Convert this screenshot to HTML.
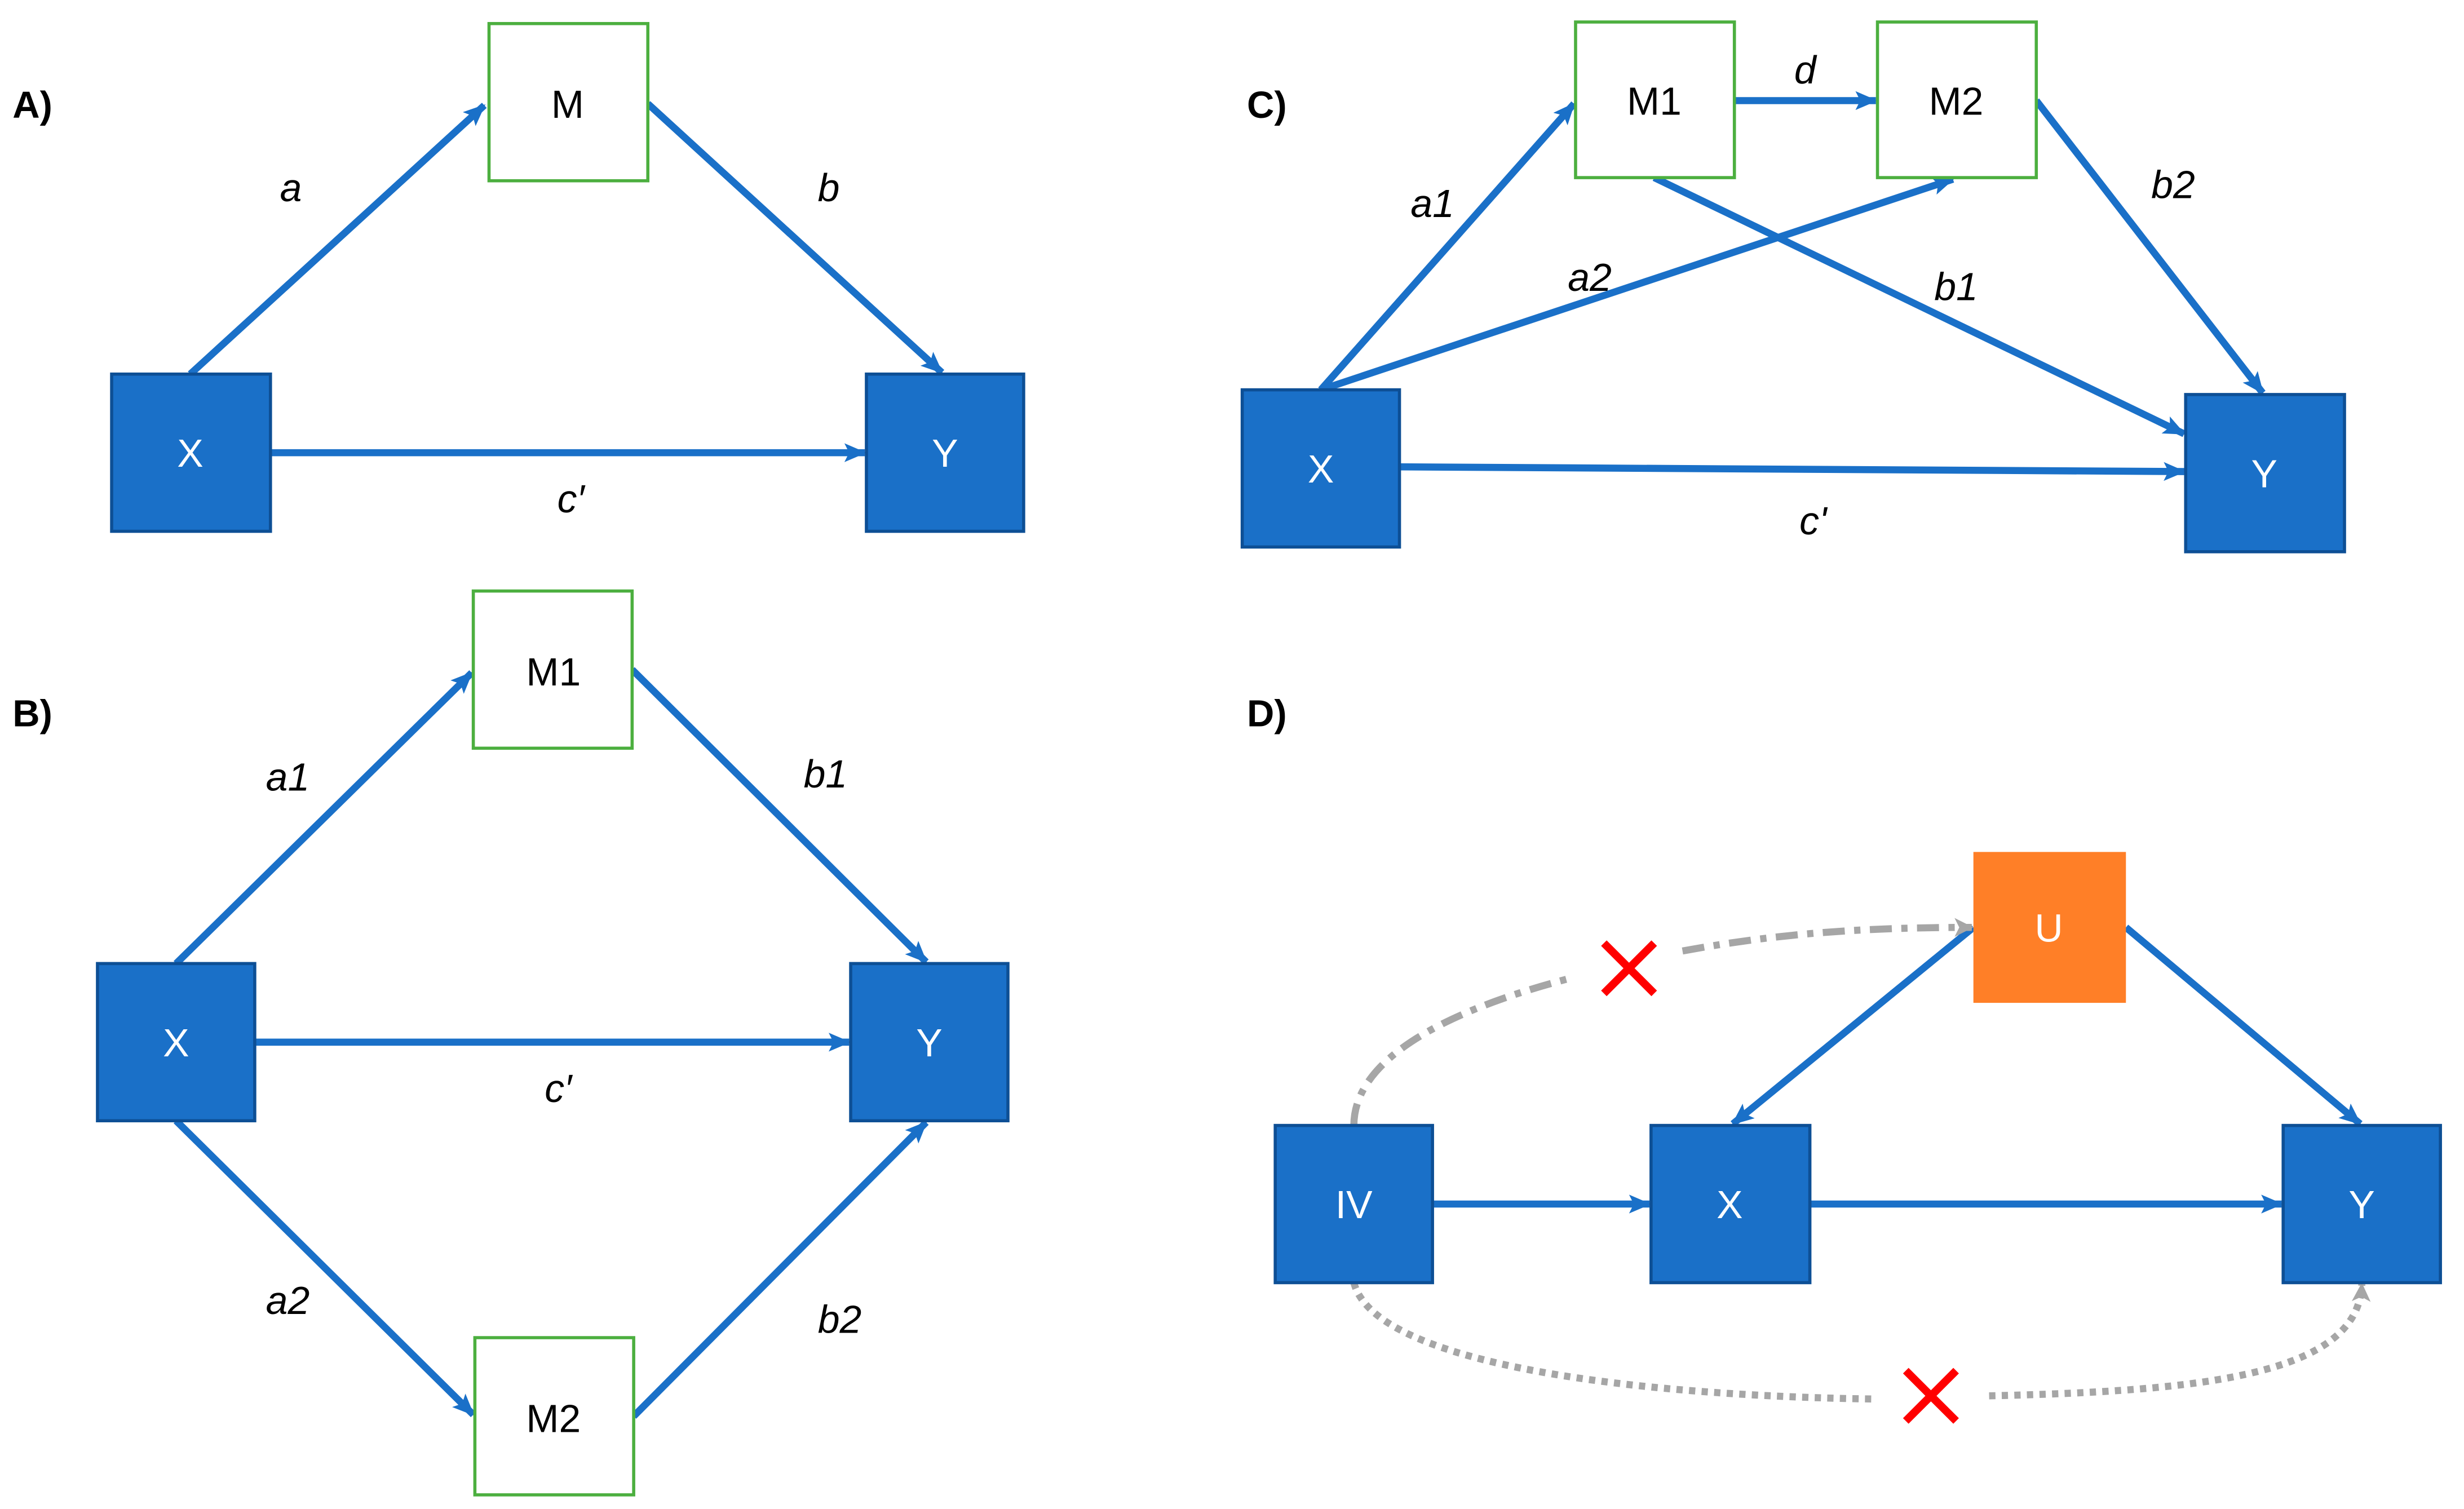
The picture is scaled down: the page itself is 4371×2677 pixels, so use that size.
<!DOCTYPE html>
<html><head><meta charset="utf-8"><style>
html,body{margin:0;padding:0;background:#fff}
svg{display:block}
text{font-family:"Liberation Sans",sans-serif}
</style></head><body>
<svg width="4371" height="2677" viewBox="0 0 1567 960" preserveAspectRatio="none" xmlns="http://www.w3.org/2000/svg">
<defs>
<marker id="ar" markerWidth="14" markerHeight="12" refX="13" refY="6" orient="auto" markerUnits="userSpaceOnUse" viewBox="0 0 14 12">
<path d="M0,0 L14,6 L0,12 L3,6 Z" fill="#1A70C8"/></marker>
<marker id="ag" markerWidth="12" markerHeight="12" refX="11" refY="6" orient="auto" markerUnits="userSpaceOnUse" viewBox="0 0 12 12">
<path d="M0,0 L12,6 L0,12 L3,6 Z" fill="#A6A6A6"/></marker>
</defs>
<g font-size="24" font-weight="bold" fill="#000">
<text x="8" y="75">A)</text><text x="8" y="462">B)</text>
<text x="793" y="75">C)</text><text x="793" y="462">D)</text>
</g>
<g stroke="#1A70C8" stroke-width="4.5" fill="none" marker-end="url(#ar)">
<line x1="121" y1="238" x2="308" y2="67"/>
<line x1="412" y1="66" x2="599" y2="237"/>
<line x1="172" y1="288" x2="550" y2="288"/>
<line x1="112" y1="613" x2="300" y2="428"/>
<line x1="402" y1="426" x2="589" y2="612"/>
<line x1="162" y1="663" x2="540" y2="663"/>
<line x1="112" y1="713" x2="301" y2="900"/>
<line x1="403" y1="901" x2="589" y2="714"/>
<line x1="840" y1="248" x2="1001" y2="66"/>
<line x1="840" y1="248" x2="1242" y2="114"/>
<line x1="1103" y1="64" x2="1193" y2="64"/>
<line x1="1052" y1="113" x2="1389" y2="276"/>
<line x1="1295" y1="64" x2="1439" y2="250"/>
<line x1="890" y1="297" x2="1389" y2="300"/>
<line x1="1255" y1="590" x2="1102" y2="715"/>
<line x1="1352" y1="590" x2="1501" y2="715"/>
<line x1="911" y1="766" x2="1049" y2="766"/>
<line x1="1151" y1="766" x2="1451" y2="766"/>
</g>
<path d="M861,716 C861,670 930,640 1000,622" stroke="#A6A6A6" stroke-width="4.5" fill="none" stroke-dasharray="14,6,4,6"/>
<path d="M1070,605 C1140,592 1200,590 1254,590" stroke="#A6A6A6" stroke-width="4.5" fill="none" stroke-dasharray="14,6,4,6" marker-end="url(#ag)"/>
<path d="M861,816 C875,870 1050,888 1190,890" stroke="#A6A6A6" stroke-width="4.5" fill="none" stroke-dasharray="4,4"/>
<path d="M1265,888 C1400,885 1500,875 1502,817" stroke="#A6A6A6" stroke-width="4.5" fill="none" stroke-dasharray="4,4" marker-end="url(#ag)"/>
<g stroke="#FF0000" stroke-width="5">
<line x1="1020" y1="600" x2="1052" y2="632"/><line x1="1052" y1="600" x2="1020" y2="632"/>
<line x1="1212" y1="872" x2="1244" y2="904"/><line x1="1244" y1="872" x2="1212" y2="904"/>
</g>
<g fill="#fff" stroke="#4CAF3F" stroke-width="2">
<rect x="311" y="15" width="101" height="100"/>
<rect x="301" y="376" width="101" height="100"/>
<rect x="302" y="851" width="101" height="100"/>
<rect x="1002" y="14" width="101" height="99"/>
<rect x="1194" y="14" width="101" height="99"/>
</g>
<g fill="#1A70C8" stroke="#0D4F95" stroke-width="2">
<rect x="71" y="238" width="101" height="100"/>
<rect x="551" y="238" width="100" height="100"/>
<rect x="62" y="613" width="100" height="100"/>
<rect x="541" y="613" width="100" height="100"/>
<rect x="790" y="248" width="100" height="100"/>
<rect x="1390" y="251" width="101" height="100"/>
<rect x="811" y="716" width="100" height="100"/>
<rect x="1050" y="716" width="101" height="100"/>
<rect x="1452" y="716" width="100" height="100"/>
</g>
<rect x="1255" y="542" width="97" height="96" fill="#FF7F27"/>
<g font-size="25" text-anchor="middle" fill="#000">
<text x="361" y="75">M</text><text x="352" y="436">M1</text><text x="352" y="911">M2</text>
<text x="1052" y="73">M1</text><text x="1244" y="73">M2</text>
</g>
<g font-size="25" text-anchor="middle" fill="#fff">
<text x="121" y="297">X</text><text x="601" y="297">Y</text>
<text x="112" y="672">X</text><text x="591" y="672">Y</text>
<text x="840" y="307">X</text><text x="1440" y="310">Y</text>
<text x="861" y="775">IV</text><text x="1100" y="775">X</text><text x="1502" y="775">Y</text>
<text x="1303" y="599">U</text>
</g>
<g font-size="25" font-style="italic" text-anchor="middle" fill="#000">
<text x="185" y="128">a</text><text x="527" y="128">b</text><text x="363" y="326">c′</text>
<text x="183" y="503">a1</text><text x="525" y="501">b1</text><text x="355" y="701">c′</text>
<text x="183" y="836">a2</text><text x="534" y="848">b2</text>
<text x="911" y="138">a1</text><text x="1011" y="185">a2</text><text x="1148" y="53">d</text>
<text x="1244" y="191">b1</text><text x="1382" y="126">b2</text><text x="1153" y="340">c'</text>
</g>
</svg>
</body></html>
